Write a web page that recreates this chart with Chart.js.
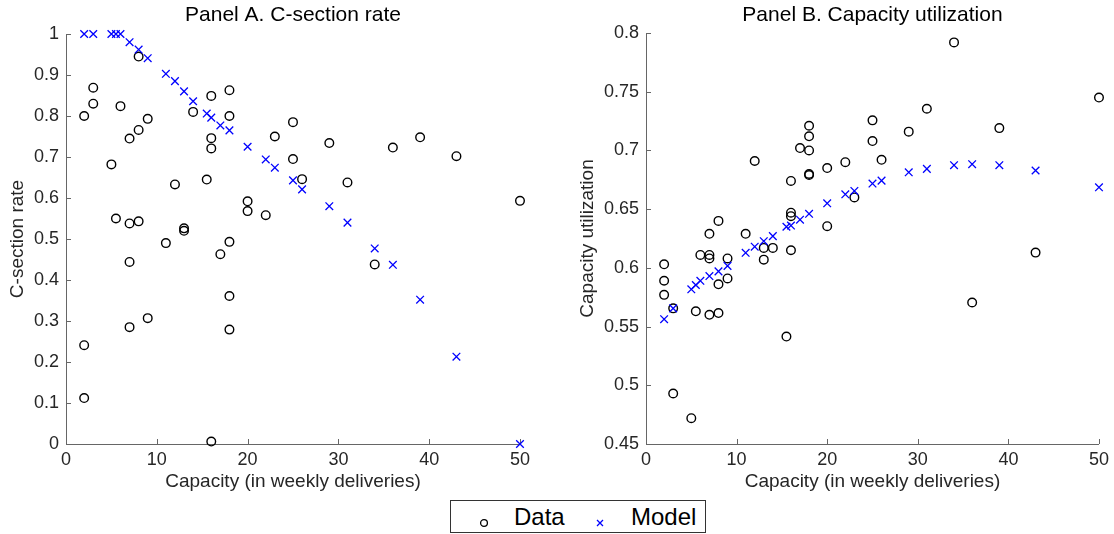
<!DOCTYPE html>
<html>
<head>
<meta charset="utf-8">
<script src="https://cdn.jsdelivr.net/npm/chart.js@4.4.0/dist/chart.umd.min.js"></script>
<style>
  body { margin: 0; background: #fff; width: 1114px; height: 534px; overflow: hidden; position: relative; font-family: "Liberation Sans", Arial, sans-serif; }
  #boxA { position: absolute; left: 0; top: 0; width: 535px; height: 493px; }
  #boxB { position: absolute; left: 570px; top: 0; width: 544px; height: 493px; }
  #legend { position: absolute; left: 450px; top: 500px; width: 254px; height: 31px; border: 1px solid #333; box-sizing: content-box; }
  #legend span { position: absolute; top: 3px; font-size: 24px; line-height: 26px; color: #000; }
  #legend svg { position: absolute; }
</style>
</head>
<body>
<div id="boxA"><canvas id="chartA"></canvas></div>
<div id="boxB"><canvas id="chartB"></canvas></div>
<div id="legend">
  <svg style="left:27px;top:16px" width="12" height="12"><circle cx="6" cy="6" r="3.4" fill="none" stroke="#000" stroke-width="1.3"/></svg>
  <span style="left:63px">Data</span>
  <svg style="left:143px;top:16px" width="12" height="12"><path d="M3 3 L9 9 M9 3 L3 9" stroke="#0000ff" stroke-width="1.3"/></svg>
  <span style="left:180px">Model</span>
</div>
<script>
// capacity of each hospital (weekly deliveries)
var dataCap = [2, 2, 2, 3, 3, 5, 5.5, 6, 7, 7, 7, 7, 8, 8, 8, 9, 9, 11, 12, 13, 13, 14, 15.5,
  16, 16, 16, 16, 17, 18, 18, 18, 18, 18, 20, 20, 22, 23, 25, 25, 26, 29, 31, 34, 36, 39, 43, 50];
var csRate = [0.80, 0.241, 0.112, 0.869, 0.83, 0.682, 0.55, 0.824, 0.745, 0.538, 0.444, 0.285,
  0.945, 0.766, 0.543, 0.793, 0.307, 0.49, 0.633, 0.526, 0.52, 0.81, 0.645,
  0.849, 0.746, 0.721, 0.006, 0.463, 0.863, 0.80, 0.493, 0.361, 0.279, 0.592, 0.568,
  0.558, 0.75, 0.785, 0.695, 0.646, 0.734, 0.638, 0.438, 0.723, 0.748, 0.702, 0.593];
var utilRate = [0.603, 0.589, 0.577, 0.5655, 0.493, 0.472, 0.563, 0.611, 0.629, 0.611, 0.608, 0.560,
  0.640, 0.586, 0.5615, 0.608, 0.591, 0.629, 0.691, 0.617, 0.607, 0.617, 0.5415,
  0.674, 0.647, 0.644, 0.615, 0.702, 0.721, 0.712, 0.700, 0.680, 0.679, 0.685, 0.6355,
  0.690, 0.660, 0.7256, 0.708, 0.692, 0.716, 0.7355, 0.792, 0.5705, 0.719, 0.613, 0.745];

// model predictions
var modelCap = [2, 3, 5, 5.5, 6, 7, 8, 9, 11, 12, 13, 14, 15.5, 16, 17, 18, 20, 22, 23, 25, 26, 29, 31, 34, 36, 39, 43, 50];
var csModel = [1, 1, 1, 1, 1, 0.98, 0.962, 0.941, 0.903, 0.885, 0.86, 0.836, 0.806, 0.796, 0.777, 0.765,
  0.725, 0.694, 0.674, 0.643, 0.621, 0.580, 0.54, 0.477, 0.437, 0.352, 0.213, 0];
var utilModel = [0.5563, 0.5655, 0.5817, 0.5854, 0.589, 0.593, 0.597, 0.6017, 0.6128, 0.618, 0.6227, 0.627,
  0.635, 0.636, 0.641, 0.646, 0.655, 0.6626, 0.6655, 0.6718, 0.6743, 0.6814, 0.6843, 0.6874, 0.6883,
  0.6874, 0.6829, 0.6686];

// tick labels
var xTicks = [0, 10, 20, 30, 40, 50];
var aTicks = [0, 0.1, 0.2, 0.3, 0.4, 0.5, 0.6, 0.7, 0.8, 0.9, 1];
var bTicks = [0.45, 0.5, 0.55, 0.6, 0.65, 0.7, 0.75, 0.8];

var fontName = '"Liberation Sans", Arial, sans-serif';
var axisColor = '#666';
var textColor = '#262626';

function pts(xs, ys) {
  return xs.map(function (x, i) { return { x: x, y: ys[i] }; });
}

// inward tick marks + panel title centred on the plot area
var matlabLook = {
  id: 'matlabLook',
  beforeDatasetsDraw: function (chart) {
    var ctx = chart.ctx, a = chart.chartArea, x = chart.scales.x, y = chart.scales.y;
    ctx.save();
    ctx.strokeStyle = axisColor;
    ctx.lineWidth = 1;
    ctx.beginPath();
    x.ticks.forEach(function (t) {
      var px = Math.round(x.getPixelForValue(t.value)) + 0.5;
      ctx.moveTo(px, a.bottom); ctx.lineTo(px, a.bottom - 5);
    });
    y.ticks.forEach(function (t) {
      var py = Math.round(y.getPixelForValue(t.value)) + 0.5;
      ctx.moveTo(a.left, py); ctx.lineTo(a.left + 5, py);
    });
    ctx.stroke();
    ctx.restore();
  },
  afterDraw: function (chart) {
    var ctx = chart.ctx, a = chart.chartArea;
    var text = chart.options.plugins.matlabLook.title;
    ctx.save();
    ctx.font = '21px ' + fontName;
    ctx.fillStyle = '#000';
    ctx.textAlign = 'center';
    ctx.textBaseline = 'middle';
    ctx.fillText(text, (a.left + a.right) / 2, 15);
    ctx.restore();
  }
};

function makeChart(id, title, yTitle, dataY, modelY, yMin, yMax, yTicks, yWidth, pad) {
  var ctx = document.getElementById(id).getContext('2d');
  return new Chart(ctx, {
    type: 'scatter',
    data: {
      datasets: [{
        label: 'Data',
        data: pts(dataCap, dataY),
        pointStyle: 'circle',
        radius: 4.3,
        borderWidth: 1.4,
        borderColor: '#000',
        backgroundColor: 'rgba(0,0,0,0)',
        clip: false,
        order: 2
      }, {
        label: 'Model',
        data: pts(modelCap, modelY),
        pointStyle: 'crossRot',
        radius: 5.4,
        borderWidth: 1.3,
        borderColor: '#0000ff',
        backgroundColor: '#0000ff',
        clip: false,
        order: 1
      }]
    },
    options: {
      responsive: true,
      maintainAspectRatio: false,
      animation: false,
      events: [],
      layout: { padding: pad },
      plugins: {
        legend: { display: false },
        tooltip: { enabled: false },
        matlabLook: { title: title }
      },
      scales: {
        x: {
          type: 'linear',
          min: 0,
          max: 50,
          afterBuildTicks: function (s) { s.ticks = xTicks.map(function (v) { return { value: v }; }); },
          afterFit: function (s) { s.height = 49; },
          ticks: { font: { family: fontName, size: 18 }, color: textColor, padding: 5, maxRotation: 0, autoSkip: false,
                   callback: function (v) { return String(v); } },
          grid: { display: false, drawTicks: false },
          border: { display: true, color: axisColor, width: 1 },
          title: { display: true, text: 'Capacity (in weekly deliveries)', color: textColor,
                   font: { family: fontName, size: 19 }, padding: { top: 0, bottom: 0 } }
        },
        y: {
          type: 'linear',
          min: yMin,
          max: yMax,
          afterBuildTicks: function (s) { s.ticks = yTicks.map(function (v) { return { value: v }; }); },
          afterFit: function (s) { s.width = yWidth; },
          ticks: { font: { family: fontName, size: 18 }, color: textColor, padding: 7, autoSkip: false,
                   callback: function (v) { return String(v); } },
          grid: { display: false, drawTicks: false },
          border: { display: true, color: axisColor, width: 1 },
          title: { display: true, text: yTitle, color: textColor,
                   font: { family: fontName, size: 19 }, padding: { top: 6, bottom: 0 } }
        }
      }
    },
    plugins: [matlabLook]
  });
}

makeChart('chartA', 'Panel A. C-section rate', 'C-section rate', csRate, csModel, 0, 1, aTicks, 66,
  { top: 34, right: 12, left: 0, bottom: 0 });
makeChart('chartB', 'Panel B. Capacity utilization', 'Capacity utilization', utilRate, utilModel, 0.45, 0.8, bTicks, 76,
  { top: 33, right: 14, left: 0, bottom: 0 });
</script>
</body>
</html>
